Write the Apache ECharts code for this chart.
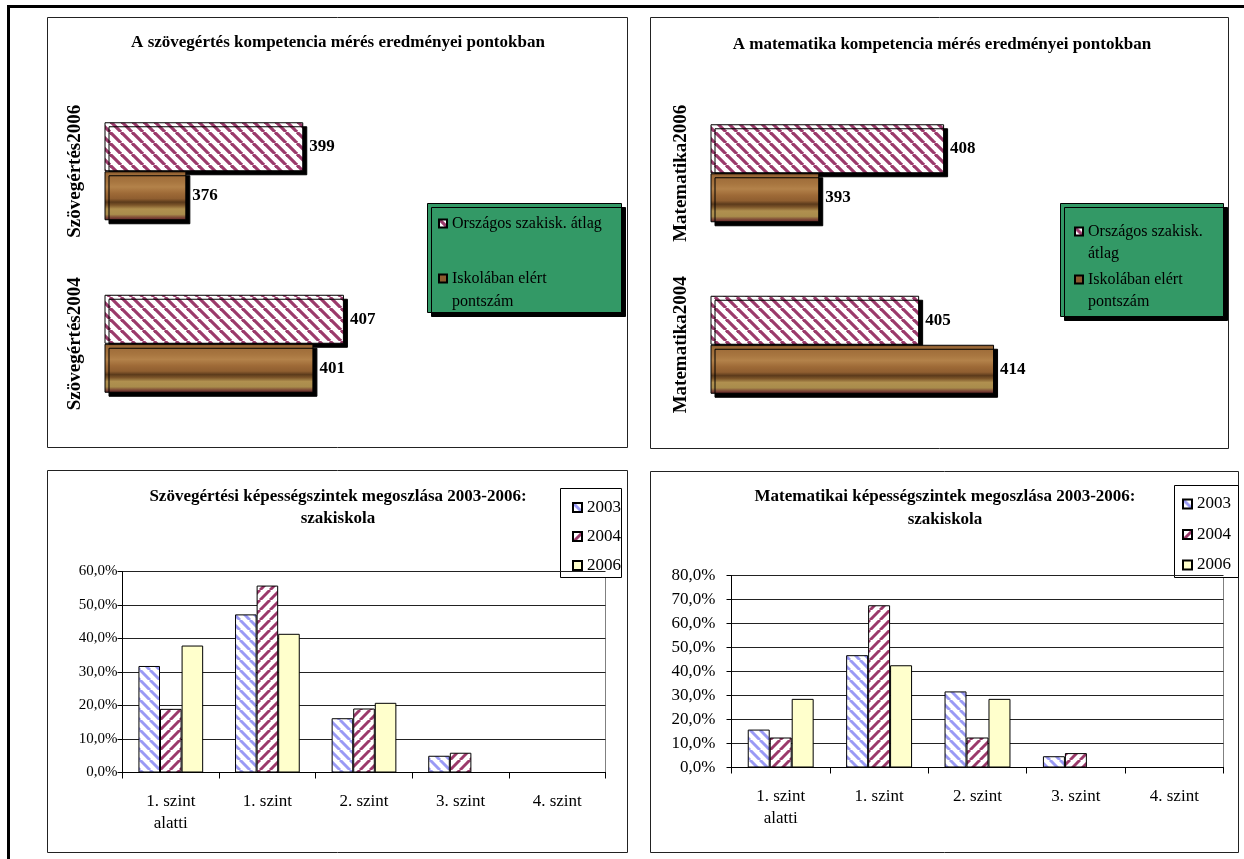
<!DOCTYPE html>
<html><head><meta charset="utf-8">
<script src="https://cdn.jsdelivr.net/npm/echarts/dist/echarts.min.js"></script>
<style>html,body{margin:0;padding:0;background:#fff}#c{width:1244px;height:859px}</style>
</head><body><div id="c"></div>
<script>
// ---------- data ----------
const readCategories = ['Szövegértés2004', 'Szövegértés2006'];
const mathCategories = ['Matematika2004', 'Matematika2006'];
const topSeriesNames = ['Országos szakisk. átlag', 'Iskolában elért pontszám'];
const readNational = [407, 399];
const readSchool = [401, 376];
const mathNational = [405, 408];
const mathSchool = [414, 393];

const levelCategories = ['1. szint\nalatti', '1. szint', '2. szint', '3. szint', '4. szint'];
const years = ['2003', '2004', '2006'];
const read2003 = [31.8, 47.2, 16.2, 5.0, 0];
const read2004 = [19.0, 55.8, 19.1, 5.9, 0];
const read2006 = [37.9, 41.4, 20.8, 0, 0];
const math2003 = [15.8, 46.8, 31.7, 4.7, 0];
const math2004 = [12.5, 67.6, 12.5, 6.0, 0];
const math2006 = [28.6, 42.6, 28.6, 0, 0];

const titles = [
  'A szövegértés kompetencia mérés eredményei pontokban',
  'A matematika kompetencia mérés eredményei pontokban',
  'Szövegértési képességszintek megoszlása 2003-2006:',
  'Matematikai képességszintek megoszlása 2003-2006:',
  'szakiskola'
];

// ---------- styles ----------
const FONT = '"Liberation Serif", "Times New Roman", serif';
function stripes(color, dir, size, lw) {
  const c = document.createElement('canvas');
  c.width = size; c.height = size;
  const g = c.getContext('2d');
  g.fillStyle = '#fff'; g.fillRect(0, 0, size, size);
  g.strokeStyle = color; g.lineWidth = lw;
  for (let k = -1; k <= 1; k++) {
    g.beginPath();
    if (dir === '\\') { g.moveTo(k * size, 0); g.lineTo(k * size + size, size); }
    else { g.moveTo(k * size, size); g.lineTo(k * size + size, 0); }
    g.stroke();
  }
  return { image: c, repeat: 'repeat' };
}
const hatchTop = stripes('#9b3a6b', '\\', 11, 3.2);
const hatch2003 = stripes('#9a9af5', '\\', 10, 3);
const hatch2004 = stripes('#9b3a6b', '/', 10, 3);
const wood = {
  type: 'linear', x: 0, y: 0, x2: 0, y2: 1,
  colorStops: [
    { offset: 0.00, color: '#7e5028' },
    { offset: 0.06, color: '#9c6a38' },
    { offset: 0.22, color: '#a87640' },
    { offset: 0.32, color: '#b3824a' },
    { offset: 0.45, color: '#9e6a37' },
    { offset: 0.56, color: '#8f5e30' },
    { offset: 0.63, color: '#5b3a1b' },
    { offset: 0.69, color: '#7b5429' },
    { offset: 0.77, color: '#b0904f' },
    { offset: 0.88, color: '#a98c4c' },
    { offset: 0.93, color: '#86563a' },
    { offset: 0.97, color: '#6d3230' },
    { offset: 1.00, color: '#5a3020' }
  ]
};

const topBarStyle = (color) => ({
  color: color, borderColor: '#000', borderWidth: 1,
  shadowColor: '#000', shadowOffsetX: 4, shadowOffsetY: 4, shadowBlur: 0
});
const topLabel = { show: true, position: 'right', distance: 6, fontFamily: FONT, fontWeight: 'bold', fontSize: 17, color: '#000' };

function topSeries(idx, national, school) {
  return [
    { type: 'bar', name: topSeriesNames[0], xAxisIndex: idx, yAxisIndex: idx, data: national,
      barWidth: 49, barGap: '0%', itemStyle: topBarStyle(hatchTop), label: topLabel },
    { type: 'bar', name: topSeriesNames[1], xAxisIndex: idx, yAxisIndex: idx, data: school,
      barWidth: 49, barGap: '0%', itemStyle: topBarStyle(wood), label: topLabel }
  ];
}
function levelSeries(idx, a, b, c) {
  const fills = [hatch2003, hatch2004, '#ffffcc'];
  return [a, b, c].map((d, i) => ({
    type: 'bar', name: years[i], xAxisIndex: idx, yAxisIndex: idx, data: d,
    barCategoryGap: '33%', barGap: '0%',
    itemStyle: { color: fills[i], borderColor: '#000', borderWidth: 1 }
  }));
}
const pct = v => v.toFixed(1).replace('.', ',') + '%';

function catAxisTop(idx, cats) {
  return { type: 'category', gridIndex: idx, data: cats,
    axisLine: { show: false }, axisTick: { show: false },
    axisLabel: { interval: 0, hideOverlap: false, rotate: 90, margin: 20, fontFamily: FONT, fontWeight: 'bold', fontSize: 19, color: '#000' } };
}
function levelX(idx) {
  return { type: 'category', gridIndex: idx, data: levelCategories,
    axisLine: { show: true, lineStyle: { color: '#000', width: 1 } },
    axisTick: { show: true, interval: 0, length: 6, lineStyle: { color: '#000' } },
    axisLabel: { interval: 0, margin: 18, fontFamily: FONT, fontSize: 17, lineHeight: 22, color: '#000' } };
}
function levelY(idx, max, fs, margin) {
  return { type: 'value', gridIndex: idx, min: 0, max: max, interval: 10,
    axisLine: { show: true, lineStyle: { color: '#000', width: 1 } },
    axisTick: { show: true, length: 5, lineStyle: { color: '#000' } },
    splitLine: { show: true, lineStyle: { color: '#222', width: 1 } },
    axisLabel: { formatter: pct, margin: margin, fontFamily: FONT, fontSize: fs, color: '#000' } };
}

const frame = (x, y, w, h) => ({ type: 'rect', shape: { x: x, y: y, width: w, height: h },
  style: { fill: null, stroke: '#222', lineWidth: 1 }, silent: true });
const txt = (x, y, t) => ({ type: 'text', x: x, y: y, silent: true,
  style: { text: t, font: 'bold 17px "Liberation Serif", serif', fill: '#000',
    align: 'center', verticalAlign: 'middle', textAlign: 'center', textVerticalAlign: 'middle' } });

const option = {
  animation: false,
  backgroundColor: '#fff',
  grid: [
    { left: 105, top: 85, width: 305, height: 345, outerBoundsMode: 'none' },
    { left: 711, top: 87.5, width: 333, height: 343, outerBoundsMode: 'none' },
    { left: 122.5, top: 571.5, width: 483, height: 201, show: true, borderColor: '#808080', borderWidth: 1, outerBoundsMode: 'none' },
    { left: 731.5, top: 575.5, width: 492, height: 192, show: true, borderColor: '#808080', borderWidth: 1, outerBoundsMode: 'none' }
  ],
  xAxis: [
    { type: 'value', gridIndex: 0, min: 360, max: 420, show: false },
    { type: 'value', gridIndex: 1, min: 380, max: 420, show: false },
    levelX(2), levelX(3)
  ],
  yAxis: [
    catAxisTop(0, readCategories), catAxisTop(1, mathCategories),
    levelY(2, 60, 15, 5), levelY(3, 80, 17, 16)
  ],
  legend: [
    { orient: 'vertical', left: 433, top: 202, itemWidth: 8, itemHeight: 31, itemGap: 27,
      selectedMode: false, symbolKeepAspect: true,
      textStyle: { fontFamily: FONT, fontSize: 16, lineHeight: 23, color: '#000' },
      formatter: n => n === topSeriesNames[1] ? 'Iskolában elért\npontszám' : n,
      data: [ { name: topSeriesNames[0], icon: 'path://M0,0M0,11.5h8v8h-8zM0,31' },
              { name: topSeriesNames[1], icon: 'path://M0,0h8v8h-8zM0,31', itemStyle: { color: '#8b5a2e' } } ] },
    { orient: 'vertical', left: 1069, top: 215.5, itemWidth: 8, itemHeight: 30, itemGap: 4,
      selectedMode: false, symbolKeepAspect: true,
      textStyle: { fontFamily: FONT, fontSize: 16, lineHeight: 22, color: '#000' },
      formatter: n => n === topSeriesNames[1] ? 'Iskolában elért\npontszám' : 'Országos szakisk.\nátlag',
      data: [ { name: topSeriesNames[0], icon: 'path://M0,0h8v8h-8zM0,30' },
              { name: topSeriesNames[1], icon: 'path://M0,0h8v8h-8zM0,30', itemStyle: { color: '#8b5a2e' } } ] },
    { orient: 'vertical', left: 567, top: 492.5, itemWidth: 9, itemHeight: 9, itemGap: 9,
      selectedMode: false, icon: 'rect',
      textStyle: { fontFamily: FONT, fontSize: 17, lineHeight: 20, color: '#000' }, data: years },
    { orient: 'vertical', left: 1177, top: 489, itemWidth: 9, itemHeight: 9, itemGap: 10.5,
      selectedMode: false, icon: 'rect',
      textStyle: { fontFamily: FONT, fontSize: 17, lineHeight: 20, color: '#000' }, data: years }
  ],
  graphic: [
    { type: 'line', shape: { x1: 8.5, y1: 6, x2: 8.5, y2: 859 }, style: { stroke: '#000', lineWidth: 3 }, silent: true },
    { type: 'line', shape: { x1: 7, y1: 6.5, x2: 1244, y2: 6.5 }, style: { stroke: '#000', lineWidth: 3 }, silent: true },
    frame(47.5, 17.5, 580, 430),
    frame(650.5, 17.5, 578, 431),
    frame(47.5, 470.5, 580, 382),
    frame(650.5, 471.5, 588, 381),
    { type: 'rect', shape: { x: 427.5, y: 203.5, width: 194, height: 109 }, silent: true,
      style: { fill: '#339966', stroke: '#000', lineWidth: 1, shadowColor: '#000', shadowOffsetX: 4, shadowOffsetY: 4, shadowBlur: 0 } },
    { type: 'rect', shape: { x: 1060.5, y: 203.5, width: 163, height: 113 }, silent: true,
      style: { fill: '#339966', stroke: '#000', lineWidth: 1, shadowColor: '#000', shadowOffsetX: 4, shadowOffsetY: 4, shadowBlur: 0 } },
    { type: 'rect', shape: { x: 560.5, y: 488.5, width: 61, height: 89 }, silent: true,
      style: { fill: '#fff', stroke: '#000', lineWidth: 1 } },
    { type: 'rect', shape: { x: 1174.5, y: 485.5, width: 64, height: 92 }, silent: true,
      style: { fill: '#fff', stroke: '#000', lineWidth: 1 } },
    txt(338, 43, titles[0]),
    txt(942, 45, titles[1]),
    txt(338, 497, titles[2]),
    txt(338, 519, titles[4]),
    txt(945, 497, titles[3]),
    txt(945, 520, titles[4])
  ],
  series: [].concat(
    topSeries(0, readNational, readSchool),
    topSeries(1, mathNational, mathSchool),
    levelSeries(2, read2003, read2004, read2006),
    levelSeries(3, math2003, math2004, math2006)
  )
};
const chart = echarts.init(document.getElementById('c'));
chart.setOption(option);
</script>
</body></html>
